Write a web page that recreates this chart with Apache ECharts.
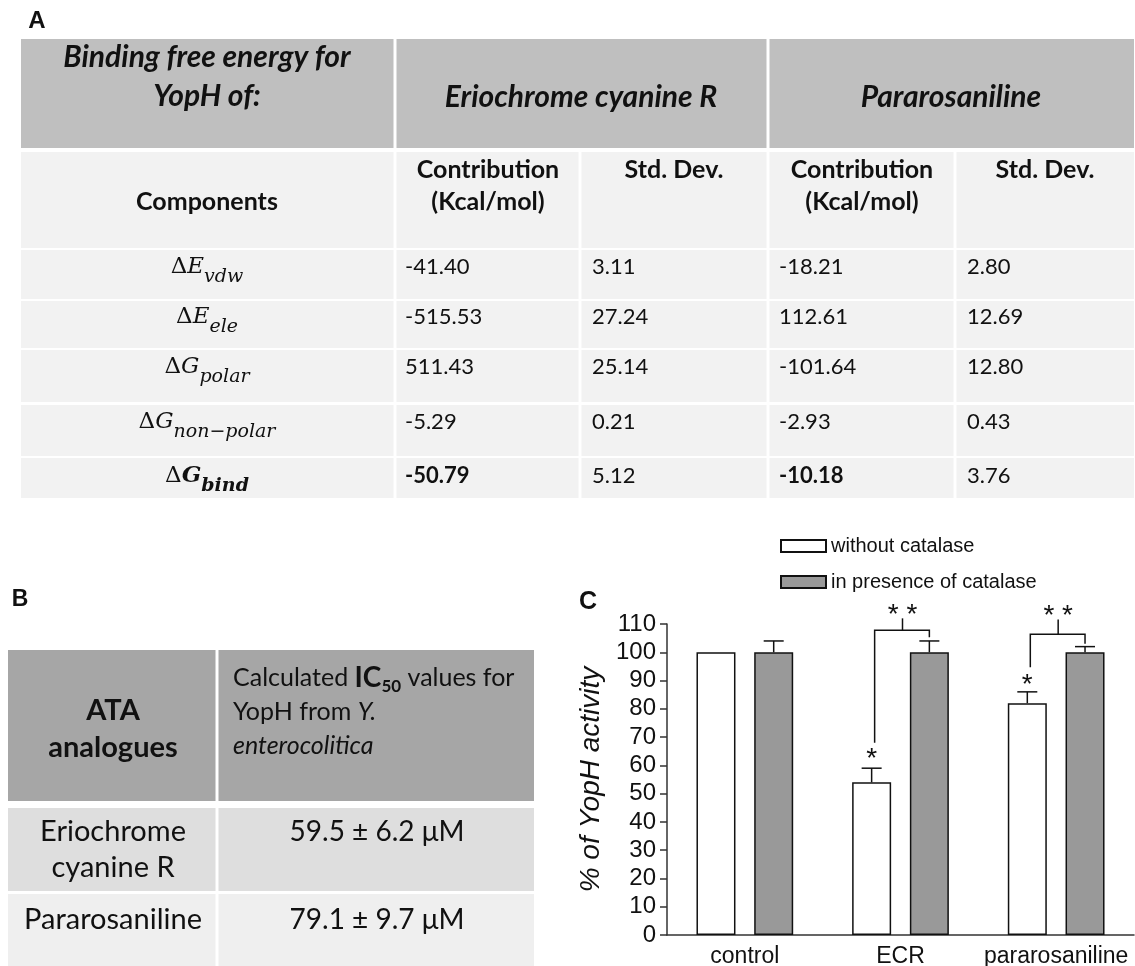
<!DOCTYPE html>
<html>
<head>
<meta charset="utf-8">
<script src="https://cdn.jsdelivr.net/npm/echarts@6.0.0/dist/echarts.min.js"></script>
<style>
html,body{margin:0;padding:0;background:#fff;}
#chart{width:1135px;height:966px;}
</style>
</head>
<body>
<div id="chart"></div>
<script>
// ---------------- DATA ----------------
const panelLabels = ['A', 'B', 'C'];

// Table A
const tableAHeader = ['Binding free energy for\nYopH of:', 'Eriochrome cyanine R', 'Pararosaniline'];
const tableASubHeader = ['Components', 'Contribution\n(Kcal/mol)', 'Std. Dev.', 'Contribution\n(Kcal/mol)', 'Std. Dev.'];
const componentSymbols = ['E', 'E', 'G', 'G', 'G'];
const componentSubscripts = ['vdw', 'ele', 'polar', 'non\u2212polar', 'bind'];
const ecrContribution = ['-41.40', '-515.53', '511.43', '-5.29', '-50.79'];
const ecrStdDev = ['3.11', '27.24', '25.14', '0.21', '5.12'];
const paraContribution = ['-18.21', '112.61', '-101.64', '-2.93', '-10.18'];
const paraStdDev = ['2.80', '12.69', '12.80', '0.43', '3.76'];
const boldRows = [false, false, false, false, true];

// Table B
const tableBHeaderLeft = 'ATA\nanalogues';
const analogues = ['Eriochrome\ncyanine R', 'Pararosaniline'];
const ic50Values = ['59.5 \u00b1 6.2 \u03bcM', '79.1 \u00b1 9.7 \u03bcM'];

// Chart C
const categories = ['control', 'ECR', 'pararosaniline'];
const legendLabels = ['without catalase', 'in presence of catalase'];
const withoutCatalase = [100, 54, 82];
const withoutCatalaseSD = [0, 5, 4];
const withCatalase = [100, 100, 100];
const withCatalaseSD = [4, 4, 2];
const yMin = 0, yMax = 110, yStep = 10;
const yAxisTitle = '% of YopH activity';
// significance brackets: category, bracket level, left foot, right foot, top of tick, label level
const bracketCat = [1, 2];
const bracketLevel = [107.8, 106.4];
const bracketLeftFoot = [68, 94.7];
const bracketRightFoot = [105.3, 103];
const bracketTop = [112, 111.6];
const bracketMark = ['* *', '* *'];
const bracketMarkLevel = [113.1, 112.8];
// single stars over "without catalase" bars
const starCat = [1, 2];
const starLevel = [62.3, 88.3];

// ---------------- LAYOUT ----------------
const TXT = '#111';
const SANS = 'Lato';
const MATH = 'DejaVu Serif';
const CH = 'Liberation Sans';
const graphics = [];
function rect(x, y, w, h, fill) {
  graphics.push({type: 'rect', silent: true, z: 0, shape: {x: x, y: y, width: w, height: h}, style: {fill: fill}});
}
function text(x, y, str, opts) {
  graphics.push({type: 'text', silent: true, z: 1, x: x, y: y, style: Object.assign({
    text: str, fill: TXT, fontFamily: SANS, fontSize: 22, align: 'center', verticalAlign: 'middle'
  }, opts || {})});
}

// Panel labels
text(37, 21, panelLabels[0], {fontFamily: 'Liberation Sans', fontWeight: 'bold', fontSize: 24});
text(20, 600, panelLabels[1], {fontFamily: 'Liberation Sans', fontWeight: 'bold', fontSize: 23});
text(588, 602, panelLabels[2], {fontFamily: 'Liberation Sans', fontWeight: 'bold', fontSize: 25});

// ----- Table A -----
const aCols = [21, 395, 580, 768, 955, 1134];
const aRowTop = [152, 250, 301, 350, 405, 458];
const aRowBot = [248, 299, 348, 402, 456, 498];
// header row
rect(aCols[0], 39, aCols[1] - aCols[0] - 1.5, 109, '#bfbfbf');
rect(aCols[1] + 1.5, 39, aCols[3] - aCols[1] - 3, 109, '#bfbfbf');
rect(aCols[3] + 1.5, 39, aCols[5] - aCols[3] - 1.5, 109, '#bfbfbf');
for (let r = 0; r < aRowTop.length; r++) {
  for (let c = 0; c < 5; c++) {
    const x0 = aCols[c] + (c === 0 ? 0 : 1.5);
    const x1 = aCols[c + 1] - (c === 4 ? 0 : 1.5);
    rect(x0, aRowTop[r], x1 - x0, aRowBot[r] - aRowTop[r], '#f2f2f2');
  }
}
text(207, 77, tableAHeader[0], {fontWeight: 'bold', fontStyle: 'italic', fontSize: 30, lineHeight: 39});
text(581, 97, tableAHeader[1], {fontWeight: 'bold', fontStyle: 'italic', fontSize: 30});
text(951, 97, tableAHeader[2], {fontWeight: 'bold', fontStyle: 'italic', fontSize: 30});
const subCenters = [207, 488, 674, 862, 1045];
text(subCenters[0], 202, tableASubHeader[0], {fontWeight: 'bold', fontSize: 25});
for (let c = 1; c < 5; c++) {
  const multi = tableASubHeader[c].indexOf('\n') >= 0;
  text(subCenters[c], multi ? 186 : 170, tableASubHeader[c], {fontWeight: 'bold', fontSize: 25, lineHeight: 32});
}
const rowTextY = [267, 317, 367, 422, 476];
const valX = [405, 592, 779, 967];
const valCols = [ecrContribution, ecrStdDev, paraContribution, paraStdDev];
for (let r = 0; r < 5; r++) {
  const b = boldRows[r];
  const sym = componentSymbols[r];
  text(207, rowTextY[r], '{d|\u0394}{m|' + sym + '}{s|' + componentSubscripts[r] + '}', {
    rich: {
      d: {fontFamily: MATH, fontSize: 23, fontWeight: 'normal', lineHeight: 40, fill: TXT},
      m: {fontFamily: MATH, fontSize: 23, fontStyle: 'italic', fontWeight: b ? 'bold' : 'normal', lineHeight: 40, fill: TXT},
      s: {fontFamily: MATH, fontSize: 19, fontStyle: 'italic', fontWeight: b ? 'bold' : 'normal', lineHeight: 24, verticalAlign: 'bottom', fill: TXT}
    }
  });
  for (let c = 0; c < 4; c++) {
    const isBold = b && (c === 0 || c === 2);
    text(valX[c], rowTextY[r], valCols[c][r], {align: 'left', fontSize: 22, fontWeight: isBold ? 'bold' : 'normal'});
  }
}

// ----- Table B -----
const bCols = [8, 217, 534];
rect(bCols[0], 650, bCols[1] - bCols[0] - 1.5, 151, '#a6a6a6');
rect(bCols[1] + 1.5, 650, bCols[2] - bCols[1] - 1.5, 151, '#a6a6a6');
rect(bCols[0], 808, bCols[1] - bCols[0] - 1.5, 83, '#dedede');
rect(bCols[1] + 1.5, 808, bCols[2] - bCols[1] - 1.5, 83, '#dedede');
rect(bCols[0], 894, bCols[1] - bCols[0] - 1.5, 72, '#efefef');
rect(bCols[1] + 1.5, 894, bCols[2] - bCols[1] - 1.5, 72, '#efefef');
text(113, 729, tableBHeaderLeft, {fontWeight: 'bold', fontSize: 29, lineHeight: 37});
text(233, 661, '{n|Calculated }{b|IC}{s|50}{n| values for}\n{n|YopH from }{i|Y.}\n{i|enterocolitica}', {
  align: 'left', verticalAlign: 'top',
  rich: {
    n: {fontFamily: SANS, fontSize: 25, lineHeight: 34, fill: TXT},
    b: {fontFamily: SANS, fontSize: 28, fontWeight: 'bold', lineHeight: 34, fill: TXT},
    s: {fontFamily: SANS, fontSize: 17, fontWeight: 'bold', lineHeight: 20, verticalAlign: 'bottom', fill: TXT},
    i: {fontFamily: SANS, fontSize: 25, fontStyle: 'italic', lineHeight: 34, fill: TXT}
  }
});
const bRowY = [850, 920];
for (let r = 0; r < analogues.length; r++) {
  text(113, bRowY[r], analogues[r], {fontSize: 29, lineHeight: 36});
  text(377, r === 0 ? 832 : 920, ic50Values[r], {fontSize: 28});
}

// ---------------- CHART ----------------
const BAR_W = 39, BAR_GAP = 0.48;
const OFF = BAR_W * (1 + BAR_GAP) / 2;
const errData = [];
for (let i = 0; i < categories.length; i++) {
  errData.push([i, withoutCatalase[i], withoutCatalaseSD[i], 0]);
  errData.push([i, withCatalase[i], withCatalaseSD[i], 1]);
}
const bracketData = bracketCat.map((c, k) => [c, bracketLevel[k], bracketLeftFoot[k], bracketRightFoot[k], bracketTop[k], bracketMarkLevel[k], k]);
const starData = starCat.map((c, k) => [c, starLevel[k]]);
const lineStyle = {stroke: '#111', lineWidth: 1.5};

const option = {
  animation: false,
  backgroundColor: '#fff',
  graphic: graphics,
  legend: {
    data: legendLabels,
    orient: 'vertical',
    left: 775, top: 531,
    icon: 'rect',
    itemWidth: 45, itemHeight: 12, itemGap: 16,
    textStyle: {fontFamily: CH, fontSize: 20, color: TXT},
    selectedMode: false
  },
  grid: {left: 667, right: 1, top: 624, bottom: 31, outerBoundsMode: 'none', containLabel: false},
  xAxis: {
    type: 'category', data: categories,
    axisLine: {lineStyle: {color: '#333', width: 1.5}},
    axisTick: {alignWithLabel: true, length: 7, lineStyle: {color: '#333', width: 1.5}},
    axisLabel: {fontFamily: CH, fontSize: 23, color: TXT, margin: 10, interval: 0, hideOverlap: false},
    splitLine: {show: false}
  },
  yAxis: {
    type: 'value', min: yMin, max: yMax, interval: yStep,
    name: yAxisTitle, nameLocation: 'middle', nameGap: 62,
    nameTextStyle: {fontFamily: CH, fontSize: 28, fontStyle: 'italic', color: TXT},
    axisLine: {show: true, lineStyle: {color: '#333', width: 1.5}},
    axisTick: {show: true, length: 7, lineStyle: {color: '#333', width: 1.5}},
    axisLabel: {fontFamily: CH, fontSize: 24, color: TXT, margin: 11},
    splitLine: {show: false}
  },
  series: [
    {name: legendLabels[0], type: 'bar', data: withoutCatalase, barWidth: BAR_W, barGap: (BAR_GAP * 100) + '%',
     itemStyle: {color: '#ffffff', borderColor: '#111', borderWidth: 1.5}},
    {name: legendLabels[1], type: 'bar', data: withCatalase, barWidth: BAR_W,
     itemStyle: {color: '#999999', borderColor: '#111', borderWidth: 1.5}},
    {type: 'custom', data: errData, z: 5, silent: true,
     renderItem: function (params, api) {
       const err = api.value(2);
       if (!(err > 0)) return null;
       const base = api.coord([api.value(0), api.value(1)]);
       const top = api.coord([api.value(0), api.value(1) + err]);
       const x = base[0] + (api.value(3) === 0 ? -OFF : OFF);
       return {type: 'group', children: [
         {type: 'line', shape: {x1: x, y1: base[1], x2: x, y2: top[1]}, style: lineStyle},
         {type: 'line', shape: {x1: x - 10, y1: top[1], x2: x + 10, y2: top[1]}, style: lineStyle}
       ]};
     }},
    {type: 'custom', data: bracketData, z: 5, silent: true,
     renderItem: function (params, api) {
       const c = api.value(0);
       const lvl = api.coord([c, api.value(1)]);
       const lf = api.coord([c, api.value(2)]);
       const rf = api.coord([c, api.value(3)]);
       const tp = api.coord([c, api.value(4)]);
       const mk = api.coord([c, api.value(5)]);
       const xl = lvl[0] - OFF + 3, xr = lvl[0] + OFF, xc = lvl[0] + 2;
       return {type: 'group', children: [
         {type: 'polyline', shape: {points: [[xl, lf[1]], [xl, lvl[1]], [xr, lvl[1]], [xr, rf[1]]]}, style: Object.assign({fill: null}, lineStyle)},
         {type: 'line', shape: {x1: xc, y1: lvl[1], x2: xc, y2: tp[1]}, style: lineStyle},
         {type: 'text', x: xc, y: mk[1], style: {text: bracketMark[api.value(6)], fontFamily: CH, fontSize: 28, fill: TXT, align: 'center', verticalAlign: 'middle'}}
       ]};
     }},
    {type: 'custom', data: starData, z: 5, silent: true,
     renderItem: function (params, api) {
       const p = api.coord([api.value(0), api.value(1)]);
       return {type: 'text', x: p[0] - OFF, y: p[1], style: {text: '*', fontFamily: CH, fontSize: 28, fill: TXT, align: 'center', verticalAlign: 'middle'}};
     }}
  ]
};
const chart = echarts.init(document.getElementById('chart'), null, {renderer: 'canvas'});
chart.setOption(option);
</script>
</body>
</html>
